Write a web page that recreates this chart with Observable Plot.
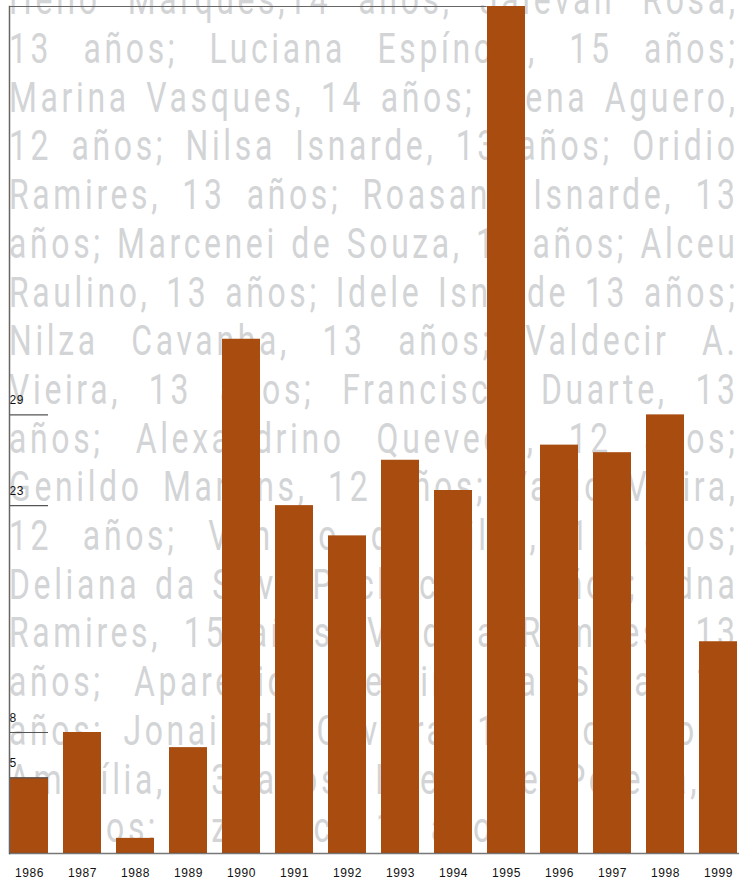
<!DOCTYPE html>
<html>
<head>
<meta charset="utf-8">
<script src="https://cdn.jsdelivr.net/npm/d3@7"></script>
<script src="https://cdn.jsdelivr.net/npm/@observablehq/plot@0.6"></script>
<style>
html, body { margin: 0; padding: 0; background: #fff; }
#wrap { position: relative; width: 739px; height: 881px; overflow: hidden; }
#bgtext {
  position: absolute; left: 9px; top: -23.7px;
  width: 960px;
  transform: scaleX(0.76); transform-origin: 0 0;
  font-family: Roboto, "Noto Sans", sans-serif; font-weight: 400;
  font-size: 42px; line-height: 48.7px; letter-spacing: 4.8px;
  color: #d2d4d6;
}
#bgtext div { text-align: justify; text-align-last: justify; }
#bgtext div.last { text-align-last: left; }
#chart { position: absolute; left: 0; top: 0; }
#chart text { letter-spacing: 0.6px; }
</style>
</head>
<body>
<div id="wrap">
  <div id="bgtext"></div>
  <div id="chart"></div>
</div>
<script>
const years = ["1986","1987","1988","1989","1990","1991","1992","1993","1994","1995","1996","1997","1998","1999"];
const values = [5, 8, 1, 7, 34, 23, 21, 26, 24, 56, 27, 26.5, 29, 14];
const yTicks = [5, 8, 23, 29];
const textLines = [
  "Helio Marques,14 años; Jaievan Rosa,",
  "13 años; Luciana Espínola, 15 años;",
  "Marina Vasques, 14 años; Elena Aguero,",
  "12 años; Nilsa Isnarde, 13 años; Oridio",
  "Ramires, 13 años; Roasana Isnarde, 13",
  "años; Marcenei de Souza, 13 años; Alceu",
  "Raulino, 13 años; Idele Isnarde 13 años;",
  "Nilza Cavanha, 13 años; Valdecir A.",
  "Vieira, 13 años; Francisco Duarte, 13",
  "años; Alexandrino Quevedo, 12 años;",
  "Genildo Martins, 12 años; Valdo Vieira,",
  "12 años; Vanildo da Silva, 13 años;",
  "Deliana da Silva Pacheco, 14 años; Edna",
  "Ramires, 15 años; Valdina Ramires, 13",
  "años; Aparecido Pereira da Silva, 14",
  "años; Jonair de Caveira, 14 años; José",
  "Amarília, 13 años; Eliete de Pereira, r",
  "13 años; Luzia Arce, 13 años."
];

// background text
const bg = d3.select("#bgtext");
textLines.forEach((t, i) => {
  bg.append("div").attr("class", i === textLines.length - 1 ? "last" : null).text(t);
});

const W = 739, H = 881, mL = 9, mR = 0, mT = 6, mB = 28;
const data = years.map((year, i) => ({year, value: values[i]}));
const maxDatum = data.reduce((a, b) => (b.value > a.value ? b : a));
const bw = d3.scaleBand().domain(years).range([mL, W - mR]).paddingInner(0.28).paddingOuter(0).bandwidth();

const plot = Plot.plot({
  width: W, height: H,
  marginTop: mT, marginRight: mR, marginBottom: mB, marginLeft: mL,
  style: {background: "transparent", fontFamily: "'Liberation Sans', Arial, sans-serif", fontSize: "12px", color: "#111", overflow: "visible"},
  x: {domain: years, paddingInner: 0.28, paddingOuter: 0},
  y: {domain: [0, d3.max(values)], axis: null},
  marks: [
    Plot.barY(data, {x: "year", y: "value", fill: "#a84c0f"}),
    Plot.tickY(yTicks, {y: d => d, x: () => years[0], stroke: "#555", strokeWidth: 1.2}),
    Plot.text(yTicks, {y: d => d, text: d => String(d), frameAnchor: "left", textAnchor: "start", lineAnchor: "bottom", dy: -11, fill: "#111", fontSize: 12}),
    Plot.ruleY([maxDatum], {y: "value", x1: () => years[0], x2: "year", insetRight: bw, stroke: "#666", strokeWidth: 1.2}),
    Plot.frame({anchor: "left", stroke: "#666", strokeWidth: 1.5}),
    Plot.ruleY([0], {stroke: "#555", strokeWidth: 1.6, strokeOpacity: 0.8}),
    Plot.axisX({tickSize: 0, tickPadding: 15, label: null, fill: "#111", fontSize: 12})
  ]
});
document.getElementById("chart").appendChild(plot);
</script>
</body>
</html>
